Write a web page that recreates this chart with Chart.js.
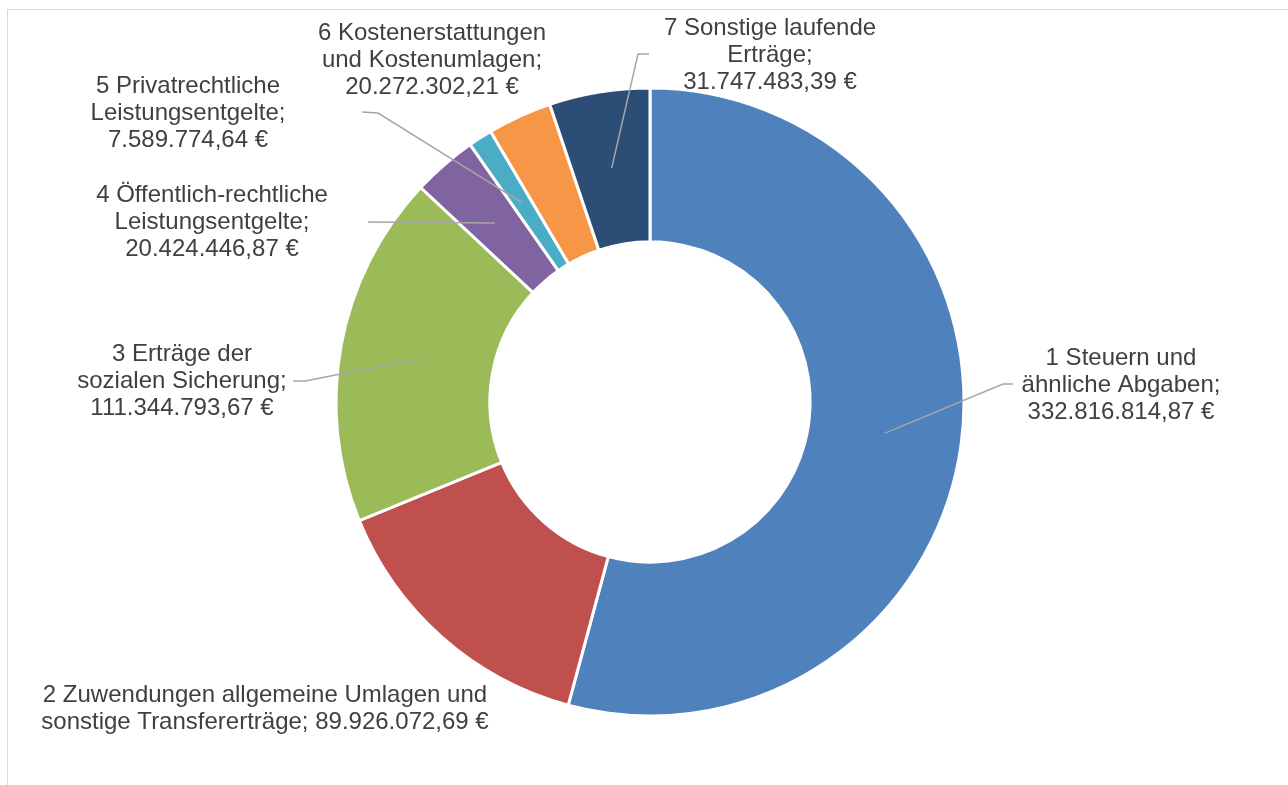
<!DOCTYPE html>
<html lang="de">
<head>
<meta charset="UTF-8">
<title>Ordentliche Erträge</title>
<script src="https://cdn.jsdelivr.net/npm/chart.js"></script>
<style>
  body { margin: 0; background: #fff; }
  .rahmen {
    position: absolute; left: 7px; top: 9px; width: 1400px; height: 900px;
    border-top: 1px solid #d9d9d9; border-left: 1px solid #d9d9d9;
  }
  .flaeche { position: absolute; left: 0; top: 0; width: 1288px; height: 785px; }
</style>
</head>
<body>
<div class="rahmen"></div>
<div class="flaeche"><canvas id="grafik"></canvas></div>
<script>
// Ertragsarten (Zeilenumbrüche wie in der Beschriftung)
const kategorien = [
  '1 Steuern und\nähnliche Abgaben',
  '2 Zuwendungen allgemeine Umlagen und\nsonstige Transfererträge',
  '3 Erträge der\nsozialen Sicherung',
  '4 Öffentlich-rechtliche\nLeistungsentgelte',
  '5 Privatrechtliche\nLeistungsentgelte',
  '6 Kostenerstattungen\nund Kostenumlagen',
  '7 Sonstige laufende\nErträge'
];
const werte = [
  332816814.87,
  89926072.69,
  111344793.67,
  20424446.87,
  7589774.64,
  20272302.21,
  31747483.39
];
const farben = ['#4f81bd', '#c0504d', '#9bbb59', '#8064a2', '#4bacc6', '#f79646', '#2c4d75'];

// Lage der Beschriftungen: Mitte der ersten Zeile, Knick der Führungslinie
const beschriftungen = [
  { x: 1121, y: 358, wertNeueZeile: true,  linie: [[1013, 384], [1003, 384]] },
  { x: 265,  y: 695, wertNeueZeile: false, linie: null },
  { x: 182,  y: 354, wertNeueZeile: true,  linie: [[293, 381], [305, 381]] },
  { x: 212,  y: 195, wertNeueZeile: true,  linie: [[368, 222]] },
  { x: 188,  y: 86,  wertNeueZeile: true,  linie: [[362, 112], [378, 113]] },
  { x: 432,  y: 33,  wertNeueZeile: true,  linie: null },
  { x: 770,  y: 28,  wertNeueZeile: true,  linie: [[649, 54], [638, 54]] }
];

function euro(v) {
  const [ganz, dez] = v.toFixed(2).split('.');
  return ganz.replace(/\B(?=(\d{3})+(?!\d))/g, '.') + ',' + dez + '\u00a0€';
}

const zeilenAbstand = 27.4;

const beschriftungPlugin = {
  id: 'beschriftung',
  afterDatasetsDraw(chart) {
    const ctx = chart.ctx;
    const meta = chart.getDatasetMeta(0);
    ctx.save();
    meta.data.forEach((bogen, i) => {
      const b = beschriftungen[i];
      const p = bogen.getProps(['x', 'y', 'startAngle', 'endAngle', 'innerRadius', 'outerRadius'], true);
      if (b.linie) {
        const mitte = (p.startAngle + p.endAngle) / 2;
        const r = (p.innerRadius + p.outerRadius) / 2;
        ctx.beginPath();
        ctx.moveTo(b.linie[0][0], b.linie[0][1]);
        for (let k = 1; k < b.linie.length; k++) ctx.lineTo(b.linie[k][0], b.linie[k][1]);
        ctx.lineTo(p.x + Math.cos(mitte) * r, p.y + Math.sin(mitte) * r);
        ctx.strokeStyle = '#a6a6a6';
        ctx.lineWidth = 1.5;
        ctx.stroke();
      }
      const zeilen = kategorien[i].split('\n');
      if (b.wertNeueZeile) {
        zeilen[zeilen.length - 1] += ';';
        zeilen.push(euro(werte[i]));
      } else {
        zeilen[zeilen.length - 1] += '; ' + euro(werte[i]);
      }
      ctx.font = '24px "Liberation Sans", Arial, sans-serif';
      ctx.fillStyle = '#404040';
      ctx.textAlign = 'center';
      ctx.textBaseline = 'middle';
      zeilen.forEach((z, k) => ctx.fillText(z, b.x, b.y + k * zeilenAbstand));
    });
    ctx.restore();
  }
};

new Chart(document.getElementById('grafik'), {
  type: 'doughnut',
  data: {
    labels: kategorien,
    datasets: [{
      data: werte,
      backgroundColor: farben,
      borderColor: '#ffffff',
      borderWidth: 3
    }]
  },
  options: {
    responsive: true,
    maintainAspectRatio: false,
    animation: false,
    radius: 314,
    cutout: '51%',
    layout: { padding: { left: 337, right: 325, top: 89, bottom: 70 } },
    plugins: {
      legend: { display: false },
      tooltip: { enabled: false }
    }
  },
  plugins: [beschriftungPlugin]
});
</script>
</body>
</html>
